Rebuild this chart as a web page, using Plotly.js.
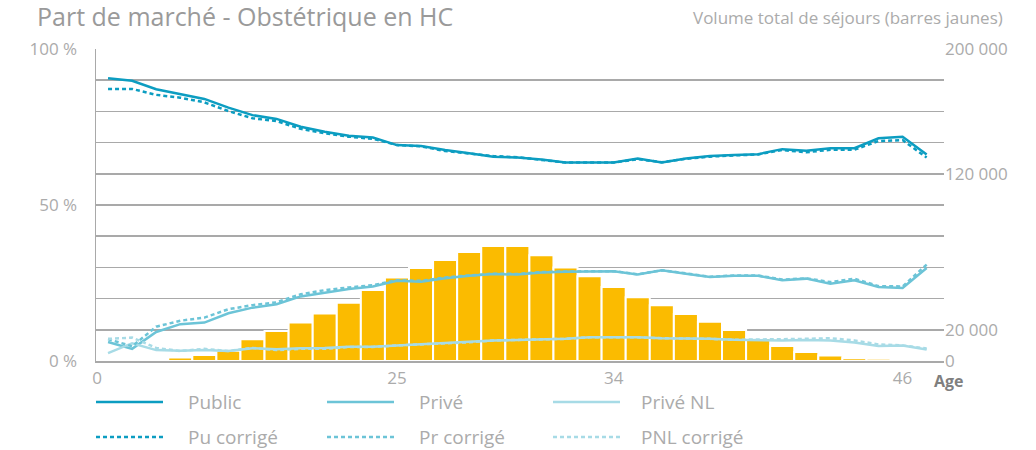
<!DOCTYPE html>
<html>
<head>
<meta charset="utf-8">
<script src="https://cdn.plot.ly/plotly-3.0.1.min.js"></script>
<style>html,body{margin:0;padding:0;background:#fff;}#chart{width:1036px;height:450px;}</style>
</head>
<body>
<div id="chart"></div>
<script>
// ---- data ----
const ages = [13,14,15,16,17,18,19,20,21,22,23,24,25,26,27,28,29,30,31,32,33,34,35,36,37,38,39,40,41,42,43,44,45,46,47];
const barAges = [15,16,17,18,19,20,21,22,23,24,25,26,27,28,29,30,31,32,33,34,35,36,37,38,39,40,41,42,43,44,45];
const volume = [1200,2200,3800,6600,14000,19200,24600,30500,37400,45500,53600,59600,64700,69900,73700,73700,67800,60000,54300,47400,40800,35700,30100,25200,19900,14700,9600,5800,3600,1800,1400];

const publicShare = [90.6,89.8,87.1,85.5,84.0,81.2,78.8,77.6,75.1,73.5,72.2,71.6,69.2,68.9,67.6,66.6,65.5,65.2,64.6,63.6,63.6,63.6,64.9,63.6,64.9,65.7,66.0,66.3,67.9,67.4,68.2,68.2,71.4,71.9,66.2];
const puCorrige   = [87.2,87.2,85.3,84.4,82.9,80.1,77.8,76.9,74.4,73.0,71.9,71.2,69.2,68.8,67.3,66.4,65.7,65.3,64.5,63.6,63.6,63.6,64.7,63.7,64.8,65.5,65.9,66.2,67.6,66.9,67.7,67.7,70.5,70.8,65.2];
const priveShare  = [6.1,3.9,9.3,11.8,12.3,15.3,17.1,18.2,20.7,22.0,23.1,23.9,25.7,25.4,26.5,27.3,27.9,27.7,28.4,28.6,28.6,28.8,27.7,29.1,28.0,26.9,27.3,27.3,25.9,26.4,24.8,25.9,23.7,23.4,29.8];
const prCorrige   = [7.0,4.7,11.0,12.9,13.9,16.6,17.9,18.8,21.4,22.7,23.6,24.3,25.9,25.7,26.8,27.5,28.0,27.9,28.5,28.7,28.7,28.8,27.8,29.1,28.1,27.0,27.4,27.4,26.1,26.5,25.3,26.4,24.0,23.9,30.9];
const priveNL     = [2.5,5.7,3.5,3.3,3.5,3.2,4.1,3.8,4.1,4.2,4.6,4.6,5.0,5.4,5.7,6.1,6.6,6.7,6.9,7.1,7.6,7.6,7.6,7.3,7.3,7.1,6.8,6.6,6.6,6.7,6.6,5.9,4.8,5.0,3.7];
const pnlCorrige  = [7.1,7.5,4.2,3.2,3.9,3.2,4.2,3.5,3.9,3.9,4.5,4.5,5.0,5.3,5.6,6.0,6.6,6.7,6.9,7.1,7.6,7.6,7.6,7.3,7.3,7.1,6.8,6.8,7.0,7.1,7.3,6.6,5.3,5.0,4.0];

const seriesNames = ["Public","Privé","Privé NL","Pu corrigé","Pr corrigé","PNL corrigé"];
const seriesData  = [publicShare, priveShare, priveNL, puCorrige, prCorrige, pnlCorrige];

const xTickVals = [12.55,25,34,46];
const xTickText = ["0","25","34","46"];
const pctTickVals = [0,50,100];
const pctTickText = ["0 %","50 %","100 %"];
const volGridVals = [0,20000,40000,60000,80000,100000,120000,140000,160000,180000,200000];
const volTickText = ["0","20 000","","","","","120 000","","","","200 000"];

const titleText = "Part de marché - Obstétrique en HC";
const rightTitle = "Volume total de séjours (barres jaunes)";
const xLabel = "Age";

// ---- styles ----
const colors = ["#0c9dc1","#6cc4d7","#a7dbe6","#0c9dc1","#6cc4d7","#a7dbe6"];
const dashes = ["solid","solid","solid","4px,3px","4px,3px","4px,3px"];
const barColor = "#fbbb00";
const grey = "#a9a9a9";
const font = "'Open Sans', Roboto, sans-serif";
const tickGrey = "#ababab";

const W = 1036, H = 450;
const M = {l:96, r:92, t:49, b:89};
const PW = W - M.l - M.r, PH = H - M.t - M.b;
const px = x => (x - M.l) / PW;
const py = y => (H - M.b - y) / PH;

const traces = [{
  type:"bar", x: barAges, y: volume, yaxis:"y",
  marker:{color: barColor, line:{color:"#ffffff", width:2}},
  hoverinfo:"skip", showlegend:false
}];
seriesData.forEach((d,i) => traces.push({
  type:"scatter", mode:"lines", x: ages, y: d, yaxis:"y2", name: seriesNames[i],
  line:{color: colors[i], width: 2.5, dash: dashes[i]}, showlegend:false
}));

// custom legend
const shapes = [], annotations = [];
const colX = [96, 327, 553], textX = [186, 417, 639], rowY = [402, 437];
seriesNames.forEach((n,i) => {
  const c = i % 3, r = Math.floor(i / 3);
  shapes.push({type:"line", xref:"paper", yref:"paper",
    x0: px(colX[c]), x1: px(colX[c] + 67), y0: py(rowY[r]), y1: py(rowY[r]),
    line:{color: colors[i], width: 2.5, dash: dashes[i]}});
  annotations.push({xref:"paper", yref:"paper", x: px(textX[c]), y: py(rowY[r]),
    xanchor:"left", yanchor:"middle", showarrow:false, text: n,
    font:{family: font, size: 19, color: tickGrey}});
});
annotations.push({xref:"paper", yref:"paper", x: px(1005), y: py(18), xanchor:"right", yanchor:"middle",
  showarrow:false, text: rightTitle, font:{family: font, size: 17, color: tickGrey}});
annotations.push({xref:"paper", yref:"paper", x: px(932), y: py(381), xanchor:"left", yanchor:"middle",
  showarrow:false, text: "<b>" + xLabel + "</b>", font:{family: font, size: 16, color:"#7f7f7f"}});

const layout = {
  width: W, height: H, margin: M,
  paper_bgcolor:"#fff", plot_bgcolor:"#fff",
  title:{text: titleText, xref:"container", yref:"container", x: 37/W, xanchor:"left",
    y: 1 - 17/H, yanchor:"middle", font:{family: font, size: 25, color:"#9a9a9a"}},
  bargap: 0,
  xaxis:{range:[12.5, 47.72], tickvals: xTickVals, ticktext: xTickText, showgrid:false, zeroline:false,
    showline:true, linecolor: grey, linewidth:1.5, ticks:"outside", ticklen:1, tickcolor:"rgba(0,0,0,0)",
    tickfont:{family: font, size: 17, color: tickGrey}},
  yaxis:{range:[0,200000], side:"right", tickvals: volGridVals, ticktext: volTickText, showgrid:true,
    gridcolor: grey, gridwidth:1.5, zeroline:false, showline:false, ticks:"",
    tickfont:{family: font, size: 17, color: tickGrey}},
  yaxis2:{range:[0,100], overlaying:"y", side:"left", tickvals: pctTickVals, ticktext: pctTickText,
    showgrid:false, zeroline:false, showline:true, linecolor: grey, linewidth:1.5,
    ticks:"outside", ticklen:14, tickcolor:"rgba(0,0,0,0)",
    tickfont:{family: font, size: 17, color: tickGrey}},
  shapes, annotations, showlegend:false
};

Plotly.newPlot("chart", traces, layout, {displayModeBar:false, staticPlot:true});
</script>
</body>
</html>
